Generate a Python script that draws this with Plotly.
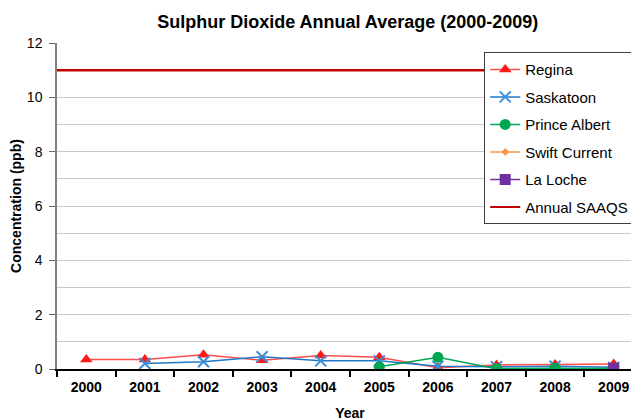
import plotly.graph_objects as go

years = ["2000", "2001", "2002", "2003", "2004", "2005", "2006", "2007", "2008", "2009"]
regina = [0.35, 0.35, 0.52, 0.32, 0.5, 0.43, 0.05, 0.15, 0.17, 0.18]
saskatoon = [None, 0.2, 0.27, 0.45, 0.3, 0.3, 0.1, 0.08, 0.1, 0.06]
prince_albert = [None, None, None, None, None, 0.08, 0.43, 0.01, 0.03, 0.02]
swift_current = [None] * 10
la_loche = [None, None, None, None, None, None, None, None, None, 0.03]
saaqs = 11

FONT = "Arial, Liberation Sans, sans-serif"

fig = go.Figure()
fig.add_trace(go.Scatter(x=years, y=regina, name="Regina", mode="lines+markers",
                         line=dict(color="#ff4d4d", width=1.5),
                         marker=dict(symbol="triangle-up", size=11, color="#ff1a1a"),
                         legendgroup="a"))
fig.add_trace(go.Scatter(x=years, y=saskatoon, name="Saskatoon", mode="lines+markers",
                         line=dict(color="#1f78c8", width=1.5),
                         marker=dict(symbol="x-thin", size=11, color="#3a8fd9",
                                     line=dict(width=2, color="#3a8fd9")),
                         legendgroup="b"))
fig.add_trace(go.Scatter(x=years, y=prince_albert, name="Prince Albert", mode="lines+markers",
                         line=dict(color="#00a651", width=1.5),
                         marker=dict(symbol="circle", size=11, color="#00a651"),
                         legendgroup="c"))
fig.add_trace(go.Scatter(x=years, y=swift_current, name="Swift Current", mode="lines+markers",
                         line=dict(color="#f7964a", width=1.5),
                         marker=dict(symbol="diamond", size=6, color="#f7964a"),
                         legendgroup="d"))
fig.add_trace(go.Scatter(x=years, y=la_loche, name="La Loche", mode="lines+markers",
                         line=dict(color="#7030a0", width=1.5),
                         marker=dict(symbol="square", size=11, color="#7030a0"),
                         legendgroup="e"))
fig.add_trace(go.Scatter(x=[years[0]], y=[None], name="Annual SAAQS", mode="lines",
                         line=dict(color="#c00000", width=2),
                         legendgroup="f"))

fig.add_shape(type="line", xref="x domain", x0=0, x1=1, yref="y", y0=saaqs, y1=saaqs,
              line=dict(color="#c00000", width=2.5), layer="above")

fig.update_layout(
    width=635, height=420,
    margin=dict(l=49, r=0, t=35, b=59),
    paper_bgcolor="white", plot_bgcolor="white",
    font=dict(family=FONT, color="black"),
    title=dict(text="<b>Sulphur Dioxide Annual Average (2000-2009)</b>",
               font=dict(size=18, family=FONT), x=0.535, xanchor="center", y=0.967, yanchor="middle"),
    showlegend=True,
    legend=dict(x=0.729, y=0.972, xanchor="left", yanchor="top",
                bgcolor="white", bordercolor="#404040", borderwidth=1,
                font=dict(size=15, family=FONT), tracegroupgap=5,
                traceorder="grouped", itemwidth=30),
)
fig.update_xaxes(type="category", range=[-0.5, 9.5], tickson="boundaries",
                 ticks="outside", ticklen=6, tickcolor="black", tickwidth=1.5,
                 showline=True, linecolor="black", linewidth=2, showgrid=False,
                 tickfont=dict(size=14, family=FONT), ticklabelstandoff=4,
                 title=dict(text="<b>Year</b>", font=dict(size=14, family=FONT), standoff=14))
fig.update_yaxes(range=[0, 12], dtick=1, showgrid=True, gridcolor="#c8c8c8", gridwidth=1,
                 tickvals=[0, 2, 4, 6, 8, 10, 12], ticks="outside", ticklen=6, tickcolor="#666666",
                 showline=True, linecolor="#808080", linewidth=1.5, zeroline=False,
                 tickfont=dict(size=14, family=FONT), ticklabelstandoff=4,
                 minor=dict(dtick=1, showgrid=True, gridcolor="#c8c8c8", ticks=""),
                 title=dict(text="<b>Concentration (ppb)</b>", font=dict(size=14, family=FONT), standoff=10))
fig.update_yaxes(tickprefix="<b>", ticksuffix="</b>")
fig.update_xaxes(tickprefix="<b>", ticksuffix="</b>")

fig.write_html("out.html")
